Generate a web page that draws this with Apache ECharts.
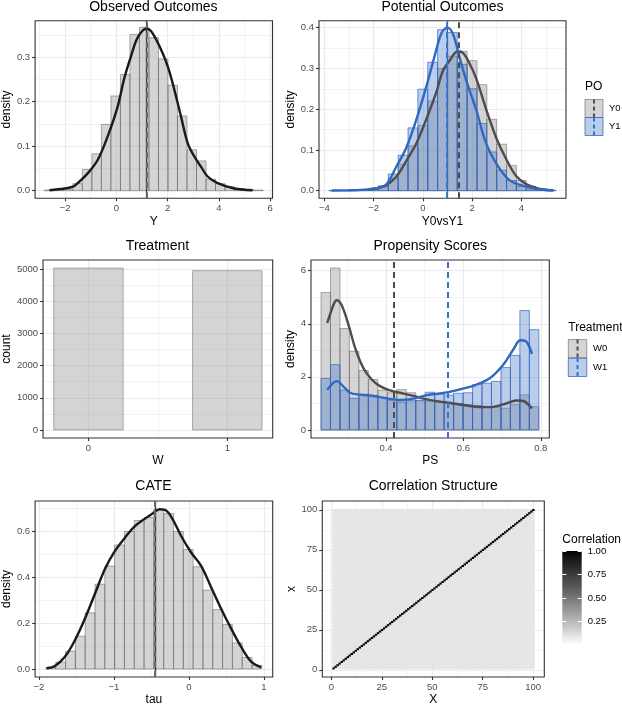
<!DOCTYPE html>
<html>
<head>
<meta charset="utf-8">
<script src="https://cdn.jsdelivr.net/npm/echarts@6/dist/echarts.min.js"></script>
<style>
html, body { margin: 0; padding: 0; background: #fff; }
#main { width: 622px; height: 707px; }
</style>
</head>
<body>
<div id="main"></div>
<script>
// ---- values ----
// Observed outcomes (Y)
const obsBinStart = -2.81;
const obsBinWidth = 0.371;
const obsHist = [0.0015, 0.002, 0.003, 0.016, 0.048, 0.083, 0.149, 0.213, 0.261, 0.351, 0.367,
  0.344, 0.296, 0.237, 0.168, 0.092, 0.067, 0.026, 0.016, 0.009, 0.005, 0.003, 0.0015];
const obsCurve = [[-2.61, 0.001], [-2.03, 0.005], [-1.69, 0.009], [-1.51, 0.017], [-1.12, 0.039],
  [-0.73, 0.069], [-0.34, 0.122], [0.05, 0.189], [0.31, 0.253], [0.57, 0.302], [0.83, 0.344],
  [1.16, 0.364], [1.35, 0.359], [1.68, 0.325], [2.0, 0.28], [2.26, 0.227], [2.52, 0.167],
  [2.78, 0.107], [3.04, 0.077], [3.3, 0.054], [3.56, 0.032], [3.95, 0.017], [4.6, 0.005], [5.31, 0.001]];
const obsMean = 1.17;

// Potential outcomes (Y0 / Y1)
const poBinStart = -3.8;
const poBinWidth = 0.4;
const poY0Hist = [0, 0, 0, 0.001, 0.003, 0.01, 0.03, 0.065, 0.11, 0.16, 0.22, 0.3, 0.33,
  0.342, 0.319, 0.26, 0.175, 0.114, 0.062, 0.025, 0.01, 0.003, 0.001];
const poY1Hist = [0.0005, 0.0005, 0.001, 0.002, 0.004, 0.012, 0.041, 0.087, 0.154, 0.249, 0.315,
  0.395, 0.388, 0.31, 0.25, 0.165, 0.095, 0.05, 0.025, 0.01, 0.004, 0.002, 0.001];
const poY0Curve = [[-2.2, 0.003], [-1.8, 0.007], [-1.49, 0.013], [-1.08, 0.034], [-0.68, 0.072],
  [-0.27, 0.115], [0.14, 0.175], [0.54, 0.24], [0.81, 0.293], [1.08, 0.318], [1.42, 0.342],
  [1.65, 0.337], [1.9, 0.312], [2.17, 0.275], [2.57, 0.2], [2.98, 0.13], [3.39, 0.077],
  [3.79, 0.036], [4.2, 0.016], [4.6, 0.007], [4.9, 0.003], [5.3, 0.001]];
const poY1Curve = [[-3.7, 0.0005], [-3.0, 0.001], [-2.5, 0.002], [-1.9, 0.006], [-1.49, 0.015],
  [-1.08, 0.058], [-0.68, 0.104], [-0.27, 0.173], [0.14, 0.255], [0.47, 0.328], [0.75, 0.385],
  [0.99, 0.4], [1.22, 0.385], [1.49, 0.328], [1.76, 0.271], [2.17, 0.198], [2.57, 0.116],
  [2.98, 0.067], [3.52, 0.026], [4.2, 0.01], [4.8, 0.003], [5.3, 0.001]];
const poMeanY0 = 1.44;
const poMeanY1 = 0.99;

// Treatment counts
const treatLevels = [0, 1];
const treatCounts = [5040, 4960];

// Propensity scores
const psBinStart = 0.2319;
const psBinWidth = 0.02448;
const psW0Hist = [5.18, 6.1, 3.82, 2.96, 2.24, 1.9, 1.5, 1.4, 1.52, 1.4, 1.12, 1.08, 1.05,
  1.02, 0.98, 0.95, 0.92, 0.88, 0.85, 0.82, 0.95, 1.32, 0.88];
const psW1Hist = [1.94, 2.46, 1.5, 1.19, 1.34, 1.3, 1.22, 1.12, 1.05, 1.1, 1.1, 1.42, 1.36,
  1.31, 1.38, 1.4, 1.71, 1.76, 1.83, 2.35, 2.81, 4.5, 3.78];
const psW0Curve = [[0.248, 4.03], [0.264, 4.71], [0.272, 4.89], [0.285, 4.71], [0.303, 3.96],
  [0.32, 3.09], [0.341, 2.34], [0.363, 1.9], [0.384, 1.65], [0.41, 1.49], [0.436, 1.4],
  [0.471, 1.28], [0.505, 1.15], [0.548, 1.05], [0.591, 0.96], [0.634, 0.875], [0.669, 0.86],
  [0.703, 0.96], [0.738, 1.11], [0.755, 1.09], [0.777, 0.81]];
const psW1Curve = [[0.248, 1.51], [0.264, 1.78], [0.274, 1.84], [0.285, 1.71], [0.307, 1.4],
  [0.333, 1.33], [0.367, 1.28], [0.402, 1.19], [0.436, 1.13], [0.471, 1.18], [0.505, 1.31],
  [0.548, 1.39], [0.591, 1.53], [0.634, 1.71], [0.669, 1.96], [0.703, 2.46], [0.729, 3.03],
  [0.747, 3.38], [0.76, 3.36], [0.772, 3.09], [0.777, 2.86]];
const psMeanW0 = 0.42;
const psMeanW1 = 0.557;

// CATE (tau)
const cateBinStart = -1.906;
const cateBinWidth = 0.1308;
const cateHist = [0.006, 0.03, 0.078, 0.143, 0.245, 0.37, 0.449, 0.541, 0.6, 0.648, 0.661,
  0.697, 0.678, 0.6, 0.521, 0.446, 0.344, 0.259, 0.194, 0.114, 0.05, 0.016];
const cateCurve = [[-1.897, 0.003], [-1.786, 0.013], [-1.653, 0.053], [-1.52, 0.125], [-1.387, 0.219],
  [-1.254, 0.327], [-1.121, 0.435], [-0.988, 0.514], [-0.855, 0.572], [-0.723, 0.622],
  [-0.59, 0.655], [-0.479, 0.68], [-0.39, 0.697], [-0.301, 0.691], [-0.213, 0.651],
  [-0.102, 0.579], [0.031, 0.507], [0.164, 0.449], [0.297, 0.356], [0.43, 0.262],
  [0.563, 0.176], [0.696, 0.096], [0.829, 0.032], [0.962, 0.007]];
const cateMean = -0.448;

// Correlation structure: 100 covariates, diagonal 1, off-diagonal read as a light average
const corrVars = Array.from({ length: 100 }, (_, i) => i + 1);
const corrDiag = 1.0;
const corrOffDiag = 0.09;
const corrScaleRange = [0, 1];

// tick values
const obsXTicks = [-2, 0, 2, 4, 6], obsXMinor = [-3, -1, 1, 3, 5];
const obsYTicks = [0, 0.1, 0.2, 0.3], obsYMinor = [0.05, 0.15, 0.25, 0.35];
const poXTicks = [-4, -2, 0, 2, 4], poXMinor = [-3, -1, 1, 3, 5];
const poYTicks = [0, 0.1, 0.2, 0.3, 0.4], poYMinor = [0.05, 0.15, 0.25, 0.35];
const trXTicks = [0, 1], trXMinor = [0.5];
const trYTicks = [0, 1000, 2000, 3000, 4000, 5000], trYMinor = [500, 1500, 2500, 3500, 4500];
const psXTicks = [0.4, 0.6, 0.8], psXMinor = [0.3, 0.5, 0.7];
const psYTicks = [0, 2, 4, 6], psYMinor = [1, 3, 5];
const cateXTicks = [-2, -1, 0, 1], cateXMinor = [-1.5, -0.5, 0.5];
const cateYTicks = [0, 0.2, 0.4, 0.6], cateYMinor = [0.1, 0.3, 0.5, 0.7];
const corrTicks = [0, 25, 50, 75, 100], corrMinor = [12.5, 37.5, 62.5, 87.5];
const corrScaleTicks = [0.25, 0.5, 0.75, 1.0];

// ---- layout / style ----
const FONT = '"Liberation Sans", Arial, Helvetica, sans-serif';
const GREY_FILL = 'rgba(153,153,153,0.42)';
const GREY_EDGE = 'rgba(90,90,90,0.55)';
const BLUE_FILL = 'rgba(58,111,196,0.35)';
const BLUE_EDGE = 'rgba(50,100,190,0.75)';
const BLUE = '#2f68c2';

const minus = v => String(v).replace('-', '\u2212');
const fix = n => v => v.toFixed(n);

const grid = [], xAxis = [], yAxis = [], series = [], graphic = [];

function panel(p) {
  const gi = grid.length;
  grid.push({
    left: p.box[0], top: p.box[1], width: p.box[2] - p.box[0], height: p.box[3] - p.box[1],
    show: true, z: 5, backgroundColor: 'rgba(0,0,0,0)', borderColor: '#333333', borderWidth: 1.1
  });
  const xi = xAxis.length, yi = yAxis.length;
  const tickStyle = { show: true, length: 3, lineStyle: { color: '#333333', width: 1.1 } };
  const labelStyle = { color: '#4d4d4d', fontSize: 9.5, fontFamily: FONT, margin: 5 };
  const nameStyle = { color: '#000', fontSize: 12, fontFamily: FONT };
  const noLine = { show: false, onZero: false };
  xAxis.push({
    type: 'value', gridIndex: gi, min: p.xr[0], max: p.xr[1], position: 'bottom',
    minInterval: p.xt[1] - p.xt[0], maxInterval: p.xt[1] - p.xt[0],
    axisLine: noLine,
    axisTick: Object.assign({ customValues: p.xt }, tickStyle),
    axisLabel: Object.assign({ customValues: p.xt, formatter: p.fx }, labelStyle),
    splitLine: { show: true, lineStyle: { color: '#ebebeb', width: 1.2 } },
    name: p.xName, nameLocation: 'middle', nameGap: 17, nameTextStyle: nameStyle
  });
  xAxis.push({
    type: 'value', gridIndex: gi, min: p.xr[0], max: p.xr[1], position: 'top',
    minInterval: p.xt[1] - p.xt[0], maxInterval: p.xt[1] - p.xt[0],
    axisLine: noLine,
    axisTick: { show: false, customValues: p.xm },
    axisLabel: { show: false, customValues: p.xm },
    splitLine: { show: true, lineStyle: { color: '#ebebeb', width: 0.6 } }
  });
  yAxis.push({
    type: 'value', gridIndex: gi, min: p.yr[0], max: p.yr[1], position: 'left',
    minInterval: p.yt[1] - p.yt[0], maxInterval: p.yt[1] - p.yt[0],
    axisLine: noLine,
    axisTick: Object.assign({ customValues: p.yt }, tickStyle),
    axisLabel: Object.assign({ customValues: p.yt, formatter: p.fy }, labelStyle),
    splitLine: { show: true, lineStyle: { color: '#ebebeb', width: 1.2 } },
    name: p.yName, nameLocation: 'middle', nameGap: p.yGap, nameRotate: 90, nameTextStyle: nameStyle
  });
  yAxis.push({
    type: 'value', gridIndex: gi, min: p.yr[0], max: p.yr[1], position: 'right',
    minInterval: p.yt[1] - p.yt[0], maxInterval: p.yt[1] - p.yt[0],
    axisLine: noLine,
    axisTick: { show: false, customValues: p.ym },
    axisLabel: { show: false, customValues: p.ym },
    splitLine: { show: true, lineStyle: { color: '#ebebeb', width: 0.6 } }
  });
  return { xAxisIndex: xi, yAxisIndex: yi };
}

function binRows(start, width, heights) {
  return heights.map((h, i) => [start + i * width, start + (i + 1) * width, h]);
}

function histSeries(ax, rows, fill, stroke) {
  return Object.assign({
    type: 'custom', z: 2, silent: true,
    encode: { x: [0, 1], y: 2 },
    data: rows,
    renderItem: function (params, api) {
      const a = api.coord([api.value(0), api.value(2)]);
      const b = api.coord([api.value(1), 0]);
      return {
        type: 'rect',
        shape: { x: a[0], y: a[1], width: b[0] - a[0], height: b[1] - a[1] },
        style: { fill: fill, stroke: stroke, lineWidth: 0.9 }
      };
    }
  }, ax);
}

function curveSeries(ax, pts, color, marks) {
  const s = Object.assign({
    type: 'line', data: pts, smooth: 0.35, symbol: 'none', showSymbol: false, z: 3, silent: true,
    lineStyle: { color: color, width: 2.4 }
  }, ax);
  if (marks) {
    s.markLine = { silent: true, symbol: 'none', animation: false, label: { show: false }, data: marks };
  }
  return s;
}

const solidV = (x, c) => ({ xAxis: x, lineStyle: { color: c, width: 1.3, type: 'solid' } });
const dashV = (x, c) => ({ xAxis: x, lineStyle: { color: c, width: 2, type: [6, 4] } });

// ---- panel 1: Observed Outcomes ----
const p1 = panel({ box: [34.3, 20.7, 272.5, 198.3], xr: [-3.17, 6.09], yr: [-0.017, 0.382],
  xt: obsXTicks, xm: obsXMinor, yt: obsYTicks, ym: obsYMinor,
  xName: 'Y', yName: 'density', yGap: 16, fx: minus, fy: fix(1) });
series.push(histSeries(p1, binRows(obsBinStart, obsBinWidth, obsHist), GREY_FILL, GREY_EDGE));
series.push(curveSeries(p1, obsCurve, '#1a1a1a', [solidV(obsMean, '#333333'), dashV(obsMean, '#666666')]));

// ---- panel 2: Potential Outcomes ----
const p2 = panel({ box: [319, 20.7, 566, 198.3], xr: [-4.215, 5.815], yr: [-0.0187, 0.417],
  xt: poXTicks, xm: poXMinor, yt: poYTicks, ym: poYMinor,
  xName: 'Y0vsY1', yName: 'density', yGap: 18, fx: minus, fy: fix(1) });
series.push(histSeries(p2, binRows(poBinStart, poBinWidth, poY0Hist), GREY_FILL, GREY_EDGE));
series.push(histSeries(p2, binRows(poBinStart, poBinWidth, poY1Hist), BLUE_FILL, BLUE_EDGE));
series.push(curveSeries(p2, poY0Curve, '#4d4d4d', [dashV(poMeanY0, '#4d4d4d')]));
series.push(curveSeries(p2, poY1Curve, BLUE, [solidV(poMeanY1, BLUE), dashV(poMeanY1, '#3a72c8')]));

// ---- panel 3: Treatment ----
const p3 = panel({ box: [42.3, 260, 272.7, 438], xr: [-0.327, 1.327], yr: [-252, 5292],
  xt: trXTicks, xm: trXMinor, yt: trYTicks, ym: trYMinor,
  xName: 'W', yName: 'count', yGap: 24, fx: v => String(v), fy: v => String(v) });
series.push(histSeries(p3, treatLevels.map((w, i) => [w - 0.25, w + 0.25, treatCounts[i]]),
  GREY_FILL, 'rgba(110,110,110,0.6)'));

// ---- panel 4: Propensity Scores ----
const p4 = panel({ box: [311, 260, 549.3, 438], xr: [0.206, 0.822], yr: [-0.305, 6.405],
  xt: psXTicks, xm: psXMinor, yt: psYTicks, ym: psYMinor,
  xName: 'PS', yName: 'density', yGap: 14, fx: fix(1), fy: v => String(v) });
series.push(histSeries(p4, binRows(psBinStart, psBinWidth, psW0Hist), GREY_FILL, GREY_EDGE));
series.push(histSeries(p4, binRows(psBinStart, psBinWidth, psW1Hist), BLUE_FILL, BLUE_EDGE));
series.push(curveSeries(p4, psW0Curve, '#4d4d4d', [dashV(psMeanW0, '#4d4d4d')]));
series.push(curveSeries(p4, psW1Curve, BLUE, [dashV(psMeanW1, '#3a72c8')]));

// ---- panel 5: CATE ----
const p5 = panel({ box: [34.3, 501, 272.7, 679.3], xr: [-2.05, 1.116], yr: [-0.035, 0.733],
  xt: cateXTicks, xm: cateXMinor, yt: cateYTicks, ym: cateYMinor,
  xName: 'tau', yName: 'density', yGap: 17, fx: minus, fy: fix(1) });
series.push(histSeries(p5, binRows(cateBinStart, cateBinWidth, cateHist), GREY_FILL, GREY_EDGE));
series.push(curveSeries(p5, cateCurve, '#1a1a1a', [solidV(cateMean, '#333333'), dashV(cateMean, '#666666')]));

// ---- panel 6: Correlation Structure ----
const p6 = panel({ box: [322.3, 501, 544.3, 679.3], xr: [-4.5, 105.5], yr: [-4.5, 105.5],
  xt: corrTicks, xm: corrMinor, yt: corrTicks, ym: corrMinor,
  xName: 'X', yName: 'x', yGap: 22, fx: v => String(v), fy: v => String(v) });

// white -> black through CIELAB lightness (as ggplot's gradient does)
function greyOf(v) {
  const t = Math.max(0, Math.min(1, (v - corrScaleRange[0]) / (corrScaleRange[1] - corrScaleRange[0])));
  const L = 100 * (1 - t);
  const Y = L > 8 ? Math.pow((L + 16) / 116, 3) : L / 903.3;
  const s = Y <= 0.0031308 ? 12.92 * Y : 1.055 * Math.pow(Y, 1 / 2.4) - 0.055;
  const c = Math.round(255 * Math.max(0, Math.min(1, s)));
  return 'rgb(' + c + ',' + c + ',' + c + ')';
}

const corrCells = [];
corrVars.forEach(i => corrVars.forEach(j => corrCells.push([i, j, i === j ? corrDiag : corrOffDiag])));
series.push(Object.assign({
  type: 'custom', z: 2, silent: true, progressive: 0, progressiveThreshold: 1000000,
  encode: { x: 0, y: 1 }, data: corrCells,
  renderItem: function (params, api) {
    const v = api.value(2);
    const p = api.coord([api.value(0) - 0.5, api.value(1) + 0.5]);
    const s = api.size([1, 1]);
    return {
      type: 'rect', z2: v > 0.5 ? 1 : 0,
      shape: { x: p[0], y: p[1], width: s[0] + 0.4, height: s[1] + 0.4 },
      style: { fill: greyOf(v) }
    };
  }
}, p6));

// ---- colour bar for Correlation ----
const cbGrid = grid.length;
grid.push({ left: 562.3, top: 551, width: 19.4, height: 94, show: false });
const cbX = xAxis.length;
xAxis.push({ type: 'value', gridIndex: cbGrid, min: 0, max: 1, show: false });
const cbY = yAxis.length;
yAxis.push({
  type: 'value', gridIndex: cbGrid, min: corrScaleRange[0], max: corrScaleRange[1], position: 'right', z: 10,
  axisLine: { show: false, onZero: false },
  axisTick: { show: true, inside: true, length: 4, customValues: corrScaleTicks, lineStyle: { color: '#ffffff', width: 1 } },
  axisLabel: { customValues: corrScaleTicks, margin: 6, color: '#000', fontSize: 9.5, fontFamily: FONT, formatter: fix(2) },
  splitLine: { show: false }
});
yAxis.push({
  type: 'value', gridIndex: cbGrid, min: corrScaleRange[0], max: corrScaleRange[1], position: 'left', z: 10,
  axisLine: { show: false, onZero: false },
  axisTick: { show: true, inside: true, length: 4, customValues: corrScaleTicks, lineStyle: { color: '#ffffff', width: 1 } },
  axisLabel: { show: false },
  splitLine: { show: false }
});
series.push({
  type: 'custom', xAxisIndex: cbX, yAxisIndex: cbY, z: 2, silent: true,
  encode: { x: [0, 1], y: [2, 3] },
  data: [[0, 1, corrScaleRange[0], corrScaleRange[1]]],
  renderItem: function (params, api) {
    const a = api.coord([api.value(0), api.value(3)]);
    const b = api.coord([api.value(1), api.value(2)]);
    const lo = api.value(2), hi = api.value(3);
    const stops = [];
    for (let k = 0; k <= 20; k++) {
      stops.push({ offset: k / 20, color: greyOf(hi - (k / 20) * (hi - lo)) });
    }
    return {
      type: 'rect',
      shape: { x: a[0], y: a[1], width: b[0] - a[0], height: b[1] - a[1] },
      style: { fill: new echarts.graphic.LinearGradient(0, 0, 0, 1, stops) }
    };
  }
});

// ---- titles and legends ----
function txt(x, y, text, size, align, color) {
  graphic.push({ type: 'text', x: x, y: y, silent: true,
    style: { text: text, fontSize: size, fontFamily: FONT, fill: color || '#000',
      align: align || 'center', verticalAlign: 'middle' } });
}
function key(x, y, size, fill, stroke, line) {
  graphic.push({ type: 'rect', silent: true, shape: { x: x, y: y, width: size, height: size },
    style: { fill: fill, stroke: stroke, lineWidth: 1 } });
  graphic.push({ type: 'line', silent: true,
    shape: { x1: x + size / 2, y1: y, x2: x + size / 2, y2: y + size },
    style: { stroke: line, lineWidth: 2, lineDash: [4, 3] } });
}

txt(153.4, 7, 'Observed Outcomes', 14);
txt(442.5, 7, 'Potential Outcomes', 14);
txt(157.5, 246.3, 'Treatment', 14);
txt(430.2, 246.3, 'Propensity Scores', 14);
txt(153.5, 486.3, 'CATE', 14);
txt(433.3, 486.6, 'Correlation Structure', 14);

txt(585, 87, 'PO', 12, 'left');
key(585, 99.5, 18, GREY_FILL, GREY_EDGE, '#4d4d4d');
key(585, 117.5, 18, BLUE_FILL, BLUE_EDGE, '#3a72c8');
txt(609, 108.5, 'Y0', 9.5, 'left');
txt(609, 126.5, 'Y1', 9.5, 'left');

txt(568.3, 327.7, 'Treatment', 12, 'left');
key(568.3, 339.5, 18.5, GREY_FILL, GREY_EDGE, '#4d4d4d');
key(568.3, 358, 18.5, BLUE_FILL, BLUE_EDGE, '#3a72c8');
txt(593, 348.7, 'W0', 9.5, 'left');
txt(593, 367.2, 'W1', 9.5, 'left');

txt(562.3, 539.5, 'Correlation', 12, 'left');

const chart = echarts.init(document.getElementById('main'));
chart.setOption({
  animation: false,
  backgroundColor: '#ffffff',
  textStyle: { fontFamily: FONT },
  grid: grid,
  xAxis: xAxis,
  yAxis: yAxis,
  series: series,
  graphic: graphic
});
</script>
</body>
</html>
